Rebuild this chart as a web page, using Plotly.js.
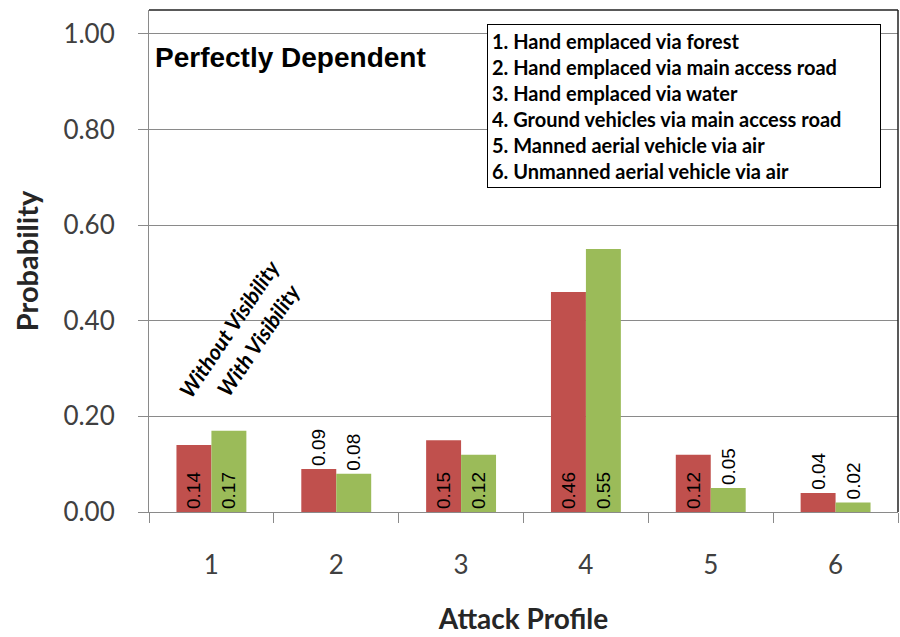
<!DOCTYPE html>
<html>
<head>
<meta charset="utf-8">
<script src="https://cdn.plot.ly/plotly-3.0.1.min.js"></script>
<style>
  html, body { margin: 0; padding: 0; background: #ffffff; }
  #chart { width: 900px; height: 637px; }
</style>
</head>
<body>
<div id="chart"></div>
<script>
// Attack profiles and probabilities, perfectly dependent case
const profiles = ["1", "2", "3", "4", "5", "6"];
const withoutVisibility = [0.14, 0.09, 0.15, 0.46, 0.12, 0.04];
const withVisibility = [0.17, 0.08, 0.12, 0.55, 0.05, 0.02];

// where each value label sits relative to its bar
const withoutLabelPos = ["inside", "outside", "inside", "inside", "inside", "outside"];
const withLabelPos = ["inside", "outside", "inside", "inside", "outside", "outside"];

const profileNames = [
  "1. Hand emplaced via forest",
  "2. Hand emplaced via main access road",
  "3. Hand emplaced via water",
  "4. Ground vehicles via main access road",
  "5. Manned aerial vehicle via air",
  "6. Unmanned aerial vehicle via air"
];

const yTicks = [0, 0.2, 0.4, 0.6, 0.8, 1.0];

const RED = "#c0504d";
const GREEN = "#9bbb59";
const GRID = "#8a8a8a";
const CAL = "Lato, 'Open Sans', sans-serif";
const ARIAL = "'Liberation Sans', Arial, sans-serif";

const labelFont = { family: ARIAL, size: 19, color: "#000000" };

const traces = [
  {
    type: "bar",
    name: "Without Visibility",
    x: profiles,
    y: withoutVisibility,
    marker: { color: RED },
    texttemplate: "%{y:.2f}",
    textposition: withoutLabelPos,
    insidetextanchor: "start",
    textangle: -90,
    constraintext: "none",
    cliponaxis: false,
    textfont: labelFont,
    insidetextfont: labelFont,
    outsidetextfont: labelFont,
    hoverinfo: "skip"
  },
  {
    type: "bar",
    name: "With Visibility",
    x: profiles,
    y: withVisibility,
    marker: { color: GREEN },
    texttemplate: "%{y:.2f}",
    textposition: withLabelPos,
    insidetextanchor: "start",
    textangle: -90,
    constraintext: "none",
    cliponaxis: false,
    textfont: labelFont,
    insidetextfont: labelFont,
    outsidetextfont: labelFont,
    hoverinfo: "skip"
  }
];

const layout = {
  width: 900,
  height: 637,
  margin: { l: 149, r: 2, t: 10, b: 125 },
  paper_bgcolor: "#ffffff",
  plot_bgcolor: "#ffffff",
  showlegend: false,
  barmode: "group",
  bargap: 0.44,
  bargroupgap: 0,
  xaxis: {
    type: "category",
    tickson: "boundaries",
    ticks: "outside",
    ticklen: 10,
    tickcolor: GRID,
    tickwidth: 1,
    showline: true,
    linecolor: GRID,
    linewidth: 1,
    showgrid: false,
    zeroline: false,
    ticklabelstandoff: 30,
    tickfont: { family: CAL, size: 26, color: "#404040" },
    title: {
      text: "Attack Profile",
      font: { family: CAL, size: 28, color: "#262626", weight: "bold" },
      standoff: 30
    }
  },
  yaxis: {
    range: [0, 1.05],
    tickvals: yTicks,
    tickformat: ".2f",
    ticks: "outside",
    ticklen: 10,
    tickcolor: GRID,
    tickwidth: 1,
    showline: true,
    linecolor: GRID,
    linewidth: 1,
    showgrid: true,
    gridcolor: GRID,
    gridwidth: 1,
    zeroline: false,
    ticklabelstandoff: 18,
    tickfont: { family: CAL, size: 26, color: "#404040" },
    title: {
      text: "Probability",
      font: { family: CAL, size: 29, color: "#262626", weight: "bold" },
      standoff: 16
    }
  },
  shapes: [
    { type: "line", xref: "paper", yref: "paper", x0: 0, x1: 1, y0: 1, y1: 1,
      line: { color: "#222222", width: 1.5 } },
    { type: "line", xref: "paper", yref: "paper", x0: 1, x1: 1, y0: 1, y1: 0,
      line: { color: "#222222", width: 1.5 } }
  ],
  annotations: [
    {
      xref: "paper", yref: "paper", x: 0.006, y: 0.905,
      xanchor: "left", yanchor: "middle", showarrow: false,
      text: "<b>Perfectly Dependent</b>",
      font: { family: ARIAL, size: 28, color: "#000000" }
    },
    {
      xref: "paper", yref: "paper", x: 0.451, y: 0.973,
      xanchor: "left", yanchor: "top", showarrow: false,
      align: "left",
      width: 384,
      text: "<b>" + profileNames.join("<br>") + "</b>",
      font: { family: CAL, size: 20, color: "#000000" },
      bgcolor: "#ffffff",
      bordercolor: "#000000",
      borderwidth: 1,
      borderpad: 4
    },
    {
      xref: "paper", yref: "paper", x: 0.108, y: 0.3665,
      xanchor: "center", yanchor: "middle", showarrow: false,
      textangle: -56,
      text: "<b><i>Without Visibility</i></b>",
      font: { family: CAL, size: 21.5, color: "#000000" }
    },
    {
      xref: "paper", yref: "paper", x: 0.1464, y: 0.3426,
      xanchor: "center", yanchor: "middle", showarrow: false,
      textangle: -56,
      text: "<b><i>With Visibility</i></b>",
      font: { family: CAL, size: 21.5, color: "#000000" }
    }
  ]
};

Plotly.newPlot("chart", traces, layout, { staticPlot: true, displayModeBar: false });
</script>
</body>
</html>
